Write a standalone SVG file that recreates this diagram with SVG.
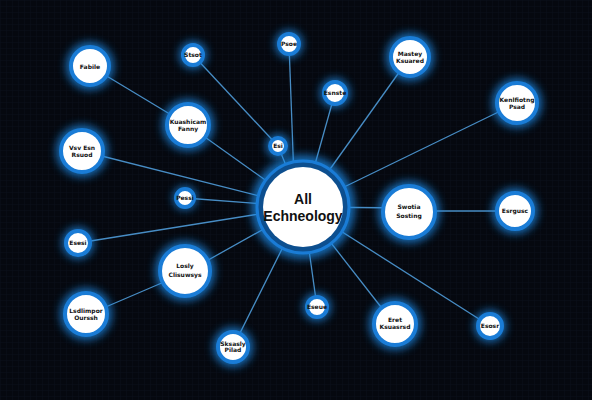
<svg xmlns="http://www.w3.org/2000/svg" width="592" height="400" viewBox="0 0 592 400">
<defs>
<pattern id="grid" width="6" height="6" patternUnits="userSpaceOnUse">
<path d="M6 0H0V6" fill="none" stroke="#0c1320" stroke-width="0.6"/>
</pattern>
<filter id="glow" x="-60%" y="-60%" width="220%" height="220%">
<feGaussianBlur stdDeviation="4"/>
</filter>
<style>
.ln{stroke:#4f9bd8;stroke-width:1.3;fill:none;opacity:0.9}
.halo{fill:#1b8be8;opacity:0.75;filter:url(#glow)}
.ring{fill:#ffffff;stroke:#1a7cd6;stroke-width:4}
.t{font-family:"DejaVu Sans","Liberation Sans",sans-serif;font-size:6px;font-weight:bold;fill:#111;text-anchor:middle}
.c{font-family:"Liberation Sans","DejaVu Sans",sans-serif;font-size:14px;font-weight:bold;fill:#111;text-anchor:middle}
</style>
</defs>
<rect width="592" height="400" fill="#05080f"/>
<rect width="592" height="400" fill="url(#grid)"/>
<g id="connectors">
<line class="ln" x1="90" y1="66" x2="188" y2="125"/>
<line class="ln" x1="188" y1="125" x2="303" y2="207"/>
<line class="ln" x1="193" y1="55" x2="278" y2="146"/>
<line class="ln" x1="278" y1="146" x2="303" y2="207"/>
<line class="ln" x1="289" y1="44" x2="295" y2="207"/>
<line class="ln" x1="335" y1="93" x2="303" y2="207"/>
<line class="ln" x1="410" y1="57" x2="303" y2="207"/>
<line class="ln" x1="517" y1="103" x2="303" y2="207"/>
<line class="ln" x1="82" y1="151" x2="303" y2="207"/>
<line class="ln" x1="185" y1="198" x2="303" y2="207"/>
<line class="ln" x1="303" y1="207" x2="409" y2="208"/>
<line class="ln" x1="409" y1="211" x2="515" y2="211"/>
<line class="ln" x1="78" y1="243" x2="303" y2="207"/>
<line class="ln" x1="185" y1="273" x2="303" y2="207"/>
<line class="ln" x1="87" y1="315" x2="185" y2="273"/>
<line class="ln" x1="233" y1="347" x2="303" y2="207"/>
<line class="ln" x1="317" y1="307" x2="303" y2="207"/>
<line class="ln" x1="395" y1="325" x2="303" y2="207"/>
<line class="ln" x1="490" y1="326" x2="303" y2="207"/>
</g>
<g id="center">
<circle class="halo" cx="303" cy="207" r="52"/>
<circle cx="303" cy="207" r="46" fill="#0d4f8f" stroke="#1a7cd6" stroke-width="3"/>
<circle cx="303" cy="207" r="40" fill="#fff"/>
<text class="c" x="303" y="204" font-size="15">All</text>
<text class="c" x="303" y="221" font-size="12.5">Echneology</text>
</g>
<g id="n-fabile"><circle class="halo" cx="90" cy="66" r="24"/><circle class="ring" cx="90" cy="66" r="19"/><text class="t" x="90" y="69" font-size="7">Fabile</text></g>
<g id="n-stsot"><circle class="halo" cx="193" cy="55" r="14"/><circle class="ring" cx="193" cy="55" r="10"/><text class="t" x="193" y="57" font-size="5">Stsot</text></g>
<g id="n-psoe"><circle class="halo" cx="289" cy="44" r="14"/><circle class="ring" cx="289" cy="44" r="10"/><text class="t" x="289" y="46" font-size="5">Psoe</text></g>
<g id="n-mastey"><circle class="halo" cx="410" cy="57" r="24"/><circle class="ring" cx="410" cy="57" r="19"/><text class="t" x="410" y="56" font-size="5.5">Mastey</text><text class="t" x="410" y="63" font-size="5.5">Ksuared</text></g>
<g id="n-esnste"><circle class="halo" cx="335" cy="93" r="15"/><circle class="ring" cx="335" cy="93" r="11"/><text class="t" x="335" y="95" font-size="4.8">Esnste</text></g>
<g id="n-kenl"><circle class="halo" cx="517" cy="103" r="25"/><circle class="ring" cx="517" cy="103" r="20"/><text class="t" x="517" y="102" font-size="5.3">Kenlfiotng</text><text class="t" x="517" y="109" font-size="5.3">Psad</text></g>
<g id="n-kuas"><circle class="halo" cx="188" cy="125" r="26"/><circle class="ring" cx="188" cy="125" r="21"/><text class="t" x="188" y="124" font-size="5.5">Kuashicam</text><text class="t" x="188" y="131" font-size="5.5">Fanny</text></g>
<g id="n-vsv"><circle class="halo" cx="82" cy="151" r="26"/><circle class="ring" cx="82" cy="151" r="21"/><text class="t" x="82" y="150" font-size="5.5">Vsv Esn</text><text class="t" x="82" y="157" font-size="5.5">Rsuod</text></g>
<g id="n-esi"><circle class="halo" cx="278" cy="146" r="12"/><circle class="ring" cx="278" cy="146" r="8"/><text class="t" x="278" y="148" font-size="4.5">Esi</text></g>
<g id="n-pessi"><circle class="halo" cx="185" cy="198" r="12"/><circle class="ring" cx="185" cy="198" r="9"/><text class="t" x="185" y="199.5" font-size="4.2">Pessi</text></g>
<g id="n-swotia"><circle class="halo" cx="409" cy="212" r="31"/><circle class="ring" cx="409" cy="212" r="26"/><text class="t" x="409" y="209" font-size="7.5" font-weight="normal">Swotia</text><text class="t" x="409" y="218" font-size="7.5" font-weight="normal">Sosting</text></g>
<g id="n-esrgusc"><circle class="halo" cx="515" cy="211" r="23"/><circle class="ring" cx="515" cy="211" r="18"/><text class="t" x="515" y="213" font-size="5.5">Esrgusc</text></g>
<g id="n-esesi"><circle class="halo" cx="78" cy="243" r="16"/><circle class="ring" cx="78" cy="243" r="12"/><text class="t" x="78" y="245" font-size="5">Esesi</text></g>
<g id="n-losly"><circle class="halo" cx="185" cy="271" r="30"/><circle class="ring" cx="185" cy="271" r="25"/><text class="t" x="185" y="268" font-size="6.5" font-weight="normal">Losly</text><text class="t" x="185" y="277" font-size="6.5" font-weight="normal">Clisuwsys</text></g>
<g id="n-lsdl"><circle class="halo" cx="86" cy="314" r="26"/><circle class="ring" cx="86" cy="314" r="21"/><text class="t" x="86" y="313" font-size="5.3">Lsdlimpor</text><text class="t" x="86" y="320" font-size="5.3">Ourssh</text></g>
<g id="n-eseue"><circle class="halo" cx="317" cy="307" r="14"/><circle class="ring" cx="317" cy="307" r="10"/><text class="t" x="317" y="308.5" font-size="4.3">Eseue</text></g>
<g id="n-eret"><circle class="halo" cx="395" cy="324" r="26"/><circle class="ring" cx="395" cy="324" r="21"/><text class="t" x="395" y="322" font-size="5.5">Eret</text><text class="t" x="395" y="329" font-size="5.5">Ksuasrsd</text></g>
<g id="n-esosr"><circle class="halo" cx="490" cy="326" r="16"/><circle class="ring" cx="490" cy="326" r="12"/><text class="t" x="490" y="328" font-size="4.8">Esosr</text></g>
<g id="n-sksasly"><circle class="halo" cx="233" cy="347" r="20"/><circle class="ring" cx="233" cy="347" r="15"/><text class="t" x="233" y="346" font-size="4.8">Sksasly</text><text class="t" x="233" y="352" font-size="4.8">Pilad</text></g>
</svg>
